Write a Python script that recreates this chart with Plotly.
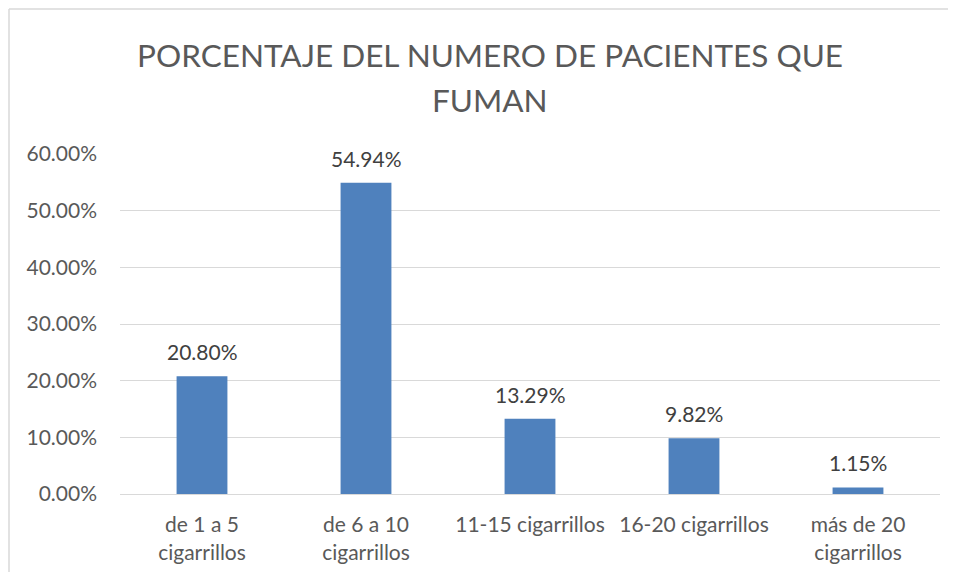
import plotly.graph_objects as go

categories = ["de 1 a 5<br>cigarrillos", "de 6 a 10<br>cigarrillos", "11-15 cigarrillos",
              "16-20 cigarrillos", "más de 20<br>cigarrillos"]
values = [0.2080, 0.5494, 0.1329, 0.0982, 0.0115]
labels = ["20.80%", "54.94%", "13.29%", "9.82%", "1.15%"]
tick_vals = [0, 0.1, 0.2, 0.3, 0.4, 0.5, 0.6]
tick_text = ["0.00%", "10.00%", "20.00%", "30.00%", "40.00%", "50.00%", "60.00%"]
title_lines = ["PORCENTAJE DEL NUMERO DE PACIENTES QUE", "FUMAN"]

FONT = "Lato, Carlito, Calibri, sans-serif"

fig = go.Figure(go.Bar(
    x=categories, y=values,
    marker=dict(color="#4F81BD", line=dict(width=0)),
    hoverinfo="x+y",
))

# page body has 8px default margin -> figure drawn at offset (8, 8);
# keep the figure inside the window so no scrollbars appear
W, H = 940, 564
L, R, T, B = 112, 8, 146, 78
fig.update_layout(
    width=W, height=H,
    margin=dict(l=L, r=R, t=T, b=B),
    paper_bgcolor="white", plot_bgcolor="white",
    font=dict(family=FONT, size=21, color="#595959"),
    bargap=0.69,
    showlegend=False,
    xaxis=dict(showgrid=False, ticks="", showline=True, linecolor="#D9D9D9", linewidth=1,
               ticklabelstandoff=12, tickfont=dict(size=21, color="#595959")),
    yaxis=dict(range=[0, 0.6], tickvals=tick_vals, ticktext=tick_text,
               showgrid=True, gridcolor="#D9D9D9", gridwidth=1, zeroline=False,
               ticks="", ticklabelstandoff=22,
               tickfont=dict(size=21, color="#595959")),
)

# data labels
for c, v, t in zip(categories, values, labels):
    fig.add_annotation(x=c, y=v, text=t, showarrow=False, yanchor="bottom",
                       yshift=10, font=dict(size=21, color="#404040", family=FONT))

# title, two lines
pw, ph = W - L - R, H - T - B
for i, line in enumerate(title_lines):
    ypix = 47 + 45 * i
    fig.add_annotation(xref="paper", yref="paper", x=(482 - L) / pw,
                       y=1 + (T - ypix) / ph, text=line, showarrow=False,
                       xanchor="center", yanchor="middle",
                       font=dict(size=31.5, color="#595959", family=FONT))

# chart border: only the left and top edges are visible (frame is cropped)
bx0 = (1 - L) / pw
by1 = 1 + (T - 1) / ph
fig.add_shape(type="line", xref="paper", yref="paper",
              x0=bx0, x1=bx0, y0=-(H - (H - B)) / ph - 0.1, y1=by1,
              line=dict(color="#D9D9D9", width=1.5), layer="below")
fig.add_shape(type="line", xref="paper", yref="paper",
              x0=bx0, x1=1 + R / pw + 0.1, y0=by1, y1=by1,
              line=dict(color="#D9D9D9", width=1.5), layer="below")

fig.write_html("out.html")
